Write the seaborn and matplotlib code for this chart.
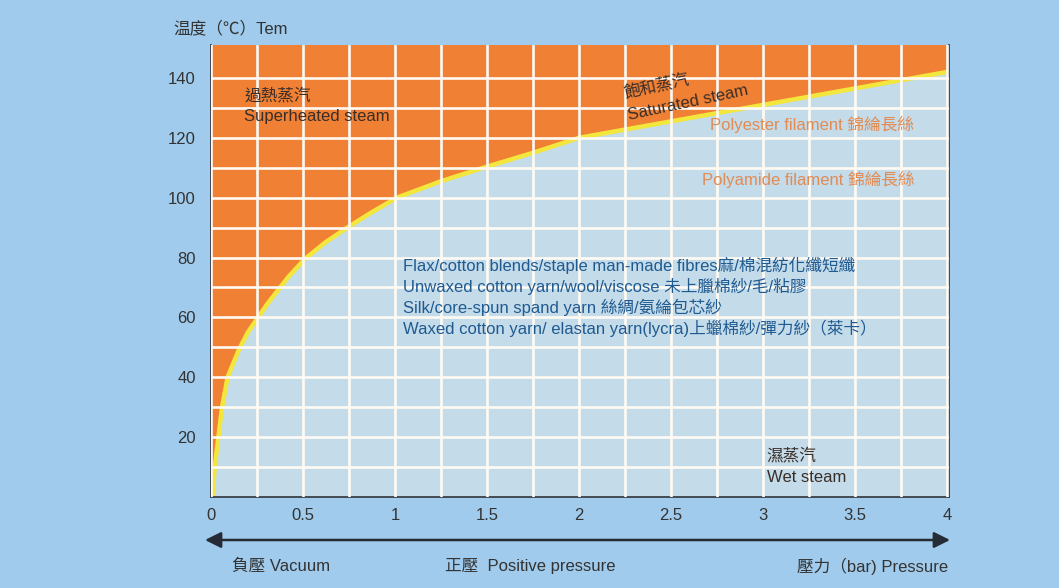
import matplotlib
matplotlib.use("Agg")
import matplotlib.pyplot as plt
import seaborn as sns
import numpy as np
import pandas as pd

# ---- data ----
pressure = [0, 0.01, 0.02, 0.04, 0.06, 0.09, 0.12, 0.15, 0.2, 0.25, 0.3, 0.35, 0.42, 0.51,
            0.62, 0.74, 0.87, 1.01, 1.25, 1.48, 1.75, 2.0, 2.5, 3.0, 3.5, 4.0]
temperature = [0, 1, 10, 20, 30, 40, 44.5, 49, 55, 59.5, 64, 68, 73.5, 79.5,
               85, 90, 95, 100, 105.5, 110, 115, 120, 125.5, 131, 136.5, 142]
x_ticks = [0, 0.5, 1, 1.5, 2, 2.5, 3, 3.5, 4]
x_tick_labels = ["0", "0.5", "1", "1.5", "2", "2.5", "3", "3.5", "4"]
y_ticks = [20, 40, 60, 80, 100, 120, 140]
y_tick_labels = ["20", "40", "60", "80", "100", "120", "140"]
fibre_lines = [
    "Flax/cotton blends/staple man-made fibres麻/棉混紡化纖短纖",
    "Unwaxed cotton yarn/wool/viscose 未上臘棉紗/毛/粘膠",
    "Silk/core-spun spand yarn 絲綢/氨綸包芯紗",
    "Waxed cotton yarn/ elastan yarn(lycra)上蠟棉紗/彈力紗（萊卡）",
]
filament_lines = ["Polyester filament 錦綸長絲", "Polyamide filament 錦綸長絲"]

BG = "#a0cbec"
ORANGE = "#f08033"
WET = "#c4dbea"
YELLOW = "#f3e63c"
DARK = "#333333"
BLUE = "#1f5a90"
TAN = "#e28b52"

sns.set_theme(style="white")
plt.rcParams["font.family"] = ["Liberation Sans", "Noto Sans CJK TC", "DejaVu Sans"]

df = pd.DataFrame({"p": pressure, "T": temperature})

fig = plt.figure(figsize=(10.59, 5.88), dpi=100, facecolor=BG)
ax = fig.add_axes([211 / 1059, 1 - 497 / 588, (949 - 211) / 1059, (497 - 45) / 588])
ax.set_facecolor(ORANGE)

XMAX, YMAX = 4.01, 151
ax.fill_between(df["p"], df["T"], YMAX, color=ORANGE, lw=0, zorder=1)
ax.fill_between(df["p"], 0, df["T"], color=WET, lw=0, zorder=1)
sns.lineplot(data=df, x="p", y="T", ax=ax, color=YELLOW, lw=3.2, zorder=2, sort=False)
for ln in ax.get_lines():
    ln.set_solid_joinstyle("round")

ax.set_xlim(0, XMAX)
ax.set_ylim(0, YMAX)
ax.set_xlabel("")
ax.set_ylabel("")

# grid every 0.25 bar and 10 degrees
ax.set_xticks(np.arange(0, 4.01, 0.25), minor=True)
ax.set_yticks(np.arange(10, 150, 10), minor=True)
ax.set_xticks(x_ticks)
ax.set_xticklabels(x_tick_labels)
ax.set_yticks(y_ticks)
ax.set_yticklabels(y_tick_labels)
ax.set_axisbelow(False)
ax.grid(True, which="both", color="#fffaf3", lw=1.9, zorder=2.5)
ax.tick_params(which="both", length=0)
ax.tick_params(axis="x", pad=8, labelsize=12, labelcolor=DARK)
ax.tick_params(axis="y", pad=11, labelsize=12, labelcolor=DARK)

for s in ["left", "bottom", "right"]:
    ax.spines[s].set_visible(True)
    ax.spines[s].set_color("#3a3f47")
    ax.spines[s].set_linewidth(1.3)
ax.spines["top"].set_visible(False)

# region labels
txt = dict(fontsize=12, color="#3a2e28", zorder=4)
ax.text(0.18, 134, "過熱蒸汽", va="center", ha="left", **txt)
ax.text(0.18, 127, "Superheated steam", va="center", ha="left", **txt)
ax.text(2.25, 133.0, "飽和蒸汽", rotation=12, rotation_mode="anchor", va="baseline", ha="left", **txt)
ax.text(2.27, 125.8, "Saturated steam", rotation=12, rotation_mode="anchor", va="baseline", ha="left", **txt)
ax.text(3.02, 13.5, "濕蒸汽", va="center", ha="left", **txt)
ax.text(3.02, 6.6, "Wet steam", va="center", ha="left", **txt)

for i, line in enumerate(filament_lines):
    ax.text(3.82, 124.5 - i * 18.5, line, va="center", ha="right", fontsize=12, color=TAN, zorder=4)

for i, line in enumerate(fibre_lines):
    ax.text(1.045, 77.3 - i * 7.0, line, va="center", ha="left", fontsize=12, color=BLUE, zorder=4)

# top-left axis title
fig.text(173 / 1059, 1 - 28 / 588, "温度（℃）Tem", ha="left", va="center", fontsize=12, color=DARK)

# bottom arrow and labels
ax.annotate("", xy=(205 / 1059, 1 - 540 / 588), xytext=(950 / 1059, 1 - 540 / 588),
            xycoords="figure fraction", textcoords="figure fraction",
            arrowprops=dict(arrowstyle="<|-|>,head_length=0.8,head_width=0.4",
                            color="#252c35", lw=1.8, shrinkA=0, shrinkB=0))
fig.text(232 / 1059, 1 - 566 / 588, "負壓 Vacuum", ha="left", va="center", fontsize=12, color=DARK)
fig.text(445 / 1059, 1 - 566 / 588, "正壓  Positive pressure", ha="left", va="center", fontsize=12, color=DARK)
fig.text(948 / 1059, 1 - 566 / 588, "壓力（bar) Pressure", ha="right", va="center", fontsize=12, color=DARK)

fig.savefig("out.png", dpi=100, facecolor=BG)
